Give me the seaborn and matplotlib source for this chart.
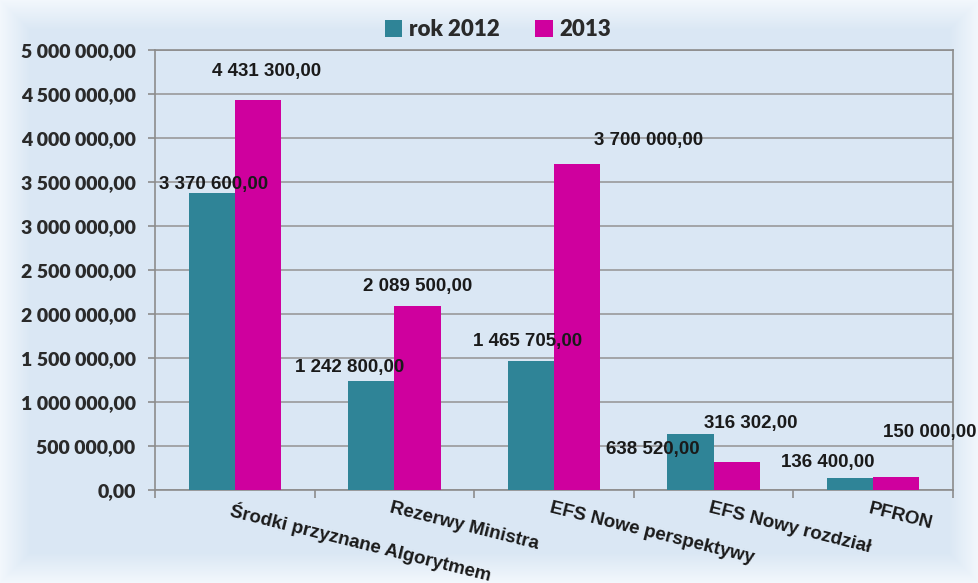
import matplotlib
matplotlib.use("Agg")
import matplotlib.pyplot as plt
import seaborn as sns
import pandas as pd
import numpy as np
from matplotlib.ticker import FuncFormatter, MultipleLocator, FixedLocator

categories = ["Środki przyznane Algorytmem", "Rezerwy Ministra", "EFS Nowe perspektywy",
              "EFS Nowy rozdział", "PFRON"]
series_names = ["rok 2012", "2013"]
values_2012 = [3370600.00, 1242800.00, 1465705.00, 638520.00, 136400.00]
values_2013 = [4431300.00, 2089500.00, 3700000.00, 316302.00, 150000.00]

# label offsets in pixels (dx, dy) relative to bar top centre
label_offsets_2012 = [(2, 9), (-22, 13), (-3, 20), (-38, -16), (-22, 15)]
label_offsets_2013 = [(9, 29), (0, 20), (71, 24), (14, 39), (33, 44)]

df = pd.DataFrame({
    "kategoria": categories * 2,
    "seria": [series_names[0]] * len(categories) + [series_names[1]] * len(categories),
    "wartosc": values_2012 + values_2013,
})

sns.set_theme(style="white")
plt.rcParams['font.family'] = ['Liberation Sans', 'DejaVu Sans']

W, H = 979, 583
BG = "#dbe7f3"
fig = plt.figure(figsize=(W / 100, H / 100), dpi=100, facecolor=BG)

# soft light-blue background, lighter towards the edges
bgax = fig.add_axes([0, 0, 1, 1], zorder=-10)
yy, xx = np.mgrid[0:H, 0:W]
d = np.minimum.reduce([xx, W - 1 - xx, yy, H - 1 - yy]).astype(float)
t = np.clip(d / 30.0, 0, 1)[..., None]
inner = np.array([0.855, 0.906, 0.957])
edge = np.array([0.95, 0.97, 0.99])
bg = edge * (1 - t) + inner * t
bgax.imshow(bg, aspect="auto", interpolation="bilinear")
bgax.set_axis_off()

ax = fig.add_axes([155 / W, (H - 490) / H, (953 - 155) / W, (490 - 50) / H], zorder=1)
ax.set_facecolor("none")

colors = ["#2F8497", "#CF009E"]
sns.barplot(data=df, x="kategoria", y="wartosc", hue="seria", palette=colors,
            width=0.58, gap=0, dodge=True, saturation=1, ax=ax, legend=True,
            edgecolor="none", zorder=3)

ax.set_ylim(0, 5000000)
ax.set_xlim(-0.5, len(categories) - 0.5)
ax.yaxis.set_major_locator(MultipleLocator(500000))
ax.yaxis.set_major_formatter(FuncFormatter(
    lambda v, p: f"{v:,.2f}".replace(",", " ").replace(".", ",")))
ax.grid(axis="y", color="#9a9a9a", linewidth=1.2, zorder=0)
ax.set_axisbelow(True)
for s in ["top", "right", "left", "bottom"]:
    ax.spines[s].set_visible(True)
    ax.spines[s].set_color("#8c8c8c")
    ax.spines[s].set_linewidth(1.2)

ax.set_xlabel("")
ax.set_ylabel("")
ax.tick_params(axis="y", length=5, width=1.2, color="#8c8c8c", pad=9,
               labelsize=14, labelcolor="#2a2a2a", left=True)
for tl in ax.get_yticklabels():
    tl.set_fontweight("heavy")
    tl.set_family(["Lato", "DejaVu Sans"])

# x: labels at category centres, tick marks at boundaries
ax.set_xticks(range(len(categories)))
ax.set_xticklabels([])
ax.tick_params(axis="x", which="major", length=0)
ax.xaxis.set_minor_locator(FixedLocator(np.arange(-0.5, len(categories), 1.0)))
ax.tick_params(axis="x", which="minor", length=6, color="#8c8c8c", width=1.2, bottom=True)
for i, c in enumerate(categories):
    ax.annotate(c, xy=(i, 0), xycoords=("data", "axes fraction"),
                xytext=(-2, -10), textcoords="offset pixels",
                rotation=-14, rotation_mode="anchor", ha="left", va="top",
                fontsize=13.5, fontweight="bold", color="#1a1a1a")

# data labels
fmt = lambda v: f"{v:,.2f}".replace(",", " ").replace(".", ",")
for cont, vals, offs in zip(ax.containers, [values_2012, values_2013],
                            [label_offsets_2012, label_offsets_2013]):
    for bar, v, (dx, dy) in zip(cont.patches, vals, offs):
        ax.annotate(fmt(v), xy=(bar.get_x() + bar.get_width() / 2, bar.get_height()),
                    xytext=(dx, dy), textcoords="offset pixels",
                    ha="center", va="center", fontsize=13.5, fontweight="bold",
                    color="#1a1a1a", annotation_clip=False, zorder=5)

leg = ax.legend(loc="center", bbox_to_anchor=(0.43, 1.0 + 20 / 440), ncol=2, frameon=False,
                handlelength=0.8, handleheight=0.8, handletextpad=0.3, columnspacing=1.6,
                prop={"size": 16, "weight": "heavy", "family": ["Lato", "DejaVu Sans"]})
for tx in leg.get_texts():
    tx.set_color("#2a2a2a")

fig.savefig("out.png", dpi=100)
